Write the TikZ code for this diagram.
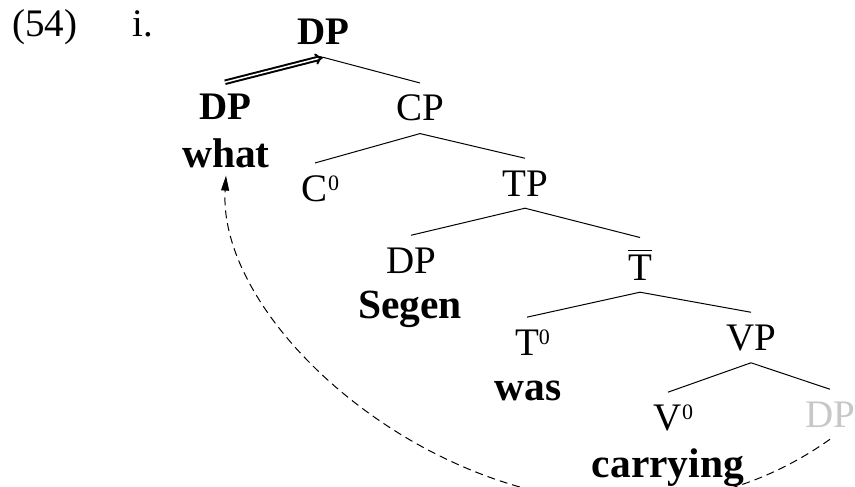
\documentclass[tikz,border=0pt]{standalone}
\usepackage{fontspec}
\setmainfont{Liberation Serif}
\usetikzlibrary{arrows.meta}

\definecolor{tracegray}{gray}{0.78}
\newcommand{\supzero}{\rlap{\raisebox{11pt}{\fontsize{22}{22}\selectfont 0}}}
\newcommand{\barT}{\rlap{\rule[29pt]{0.611em}{1.3pt}}T}

\begin{document}
\begin{tikzpicture}[x=1pt, y=-1pt, font=\fontsize{39}{47}\selectfont,
  cat/.style={inner sep=12pt, anchor=base},
  boldcat/.style={cat, font=\fontsize{39}{47}\selectfont\bfseries},
  word/.style={inner sep=8pt, anchor=base, font=\fontsize{41.5}{49}\selectfont\bfseries},
  branch/.style={line width=1pt},
  move/.style={line width=1pt, dash pattern=on 8pt off 5pt, -{Triangle[length=15pt,width=8pt]}}]

\useasboundingbox (0,0) rectangle (855,487);
\clip (0,0) rectangle (855,487);

% example number
\node[anchor=base] (num) at (45,37) {(54)};
\node[anchor=base] (item) at (143,37) {i.};

% moved wh-phrase
\node[boldcat] (dptop) at (323,45) {DP};
\node[boldcat] (dpwh) at (225,120) {DP};
\node[word] (what) at (226,167) {what};

% CP and TP layer
\node[cat] (cp) at (420,121) {CP};
\node[cat] (c0) at (315,201) {C\supzero};
\node[cat] (tp) at (525,196) {TP};
\node[cat] (dps) at (411,273) {DP};
\node[word] (segen) at (410,318) {Segen};
\node[cat] (tbar) at (640,280) {\barT};

% T and VP layer
\node[cat] (t0) at (527,355) {T\supzero};
\node[word] (was) at (528,400) {was};
\node[cat] (vp) at (751,350) {VP};
\node[cat] (v0) at (668,430) {V\supzero};
\node[word] (carrying) at (668,477) {carrying};
\node[cat, text=tracegray] (dpg) at (830,427) {DP};

% branches
\draw[branch] (dptop.south) -- (cp.north);
\draw[branch] (cp.south) -- (c0.north);
\draw[branch] (cp.south) -- (tp.north);
\draw[branch] (tp.south) -- (dps.north);
\draw[branch] (tp.south) -- (tbar.north);
\draw[branch] (tbar.south) -- (t0.north);
\draw[branch] (tbar.south) -- (vp.north);
\draw[branch] (vp.south) -- (v0.north);
\draw[branch] (vp.south) -- (dpg.north);

% movement arrows
\draw[line width=2pt, double, double distance=1.5pt, -{Implies}] (dpwh.north) -- (dptop.south);
\draw[move] (dpg.south) .. controls +(-263,186) and +(-11,185) .. (what.south);

\end{tikzpicture}
\end{document}
